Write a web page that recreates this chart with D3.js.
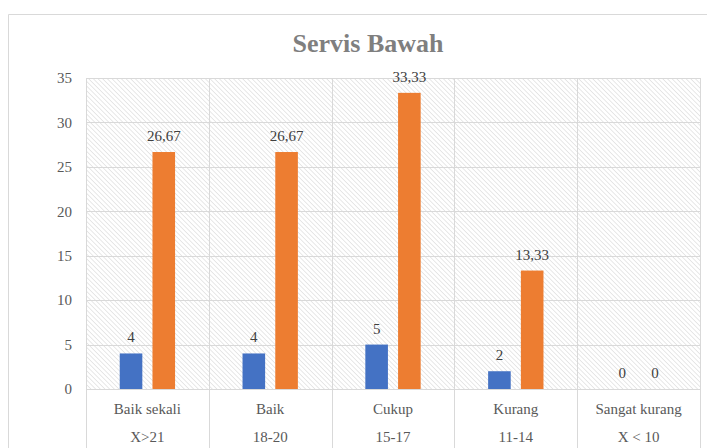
<!DOCTYPE html>
<html><head><meta charset="utf-8">
<script src="https://cdn.jsdelivr.net/npm/d3@7"></script>
<style>body{margin:0;background:#fff;}svg{display:block;}svg text{font-family:"Liberation Serif","DejaVu Serif",serif;}</style>
</head><body>
<script>
const categories = ["Baik sekali","Baik","Cukup","Kurang","Sangat kurang"];
const ranges = ["X>21","18-20","15-17","11-14","X < 10"];
const seriesA = [4,4,5,2,0];
const seriesB = [26.67,26.67,33.33,13.33,0];
const yTicks = [0,5,10,15,20,25,30,35];

(function(){
const W=707,H=448;
const svg=d3.select("body").append("svg").attr("width",W).attr("height",H);
const defs=svg.append("defs");
const s=3.3;
const pat=defs.append("pattern").attr("id","hatch").attr("patternUnits","userSpaceOnUse")
  .attr("width",s).attr("height",s).attr("patternTransform","rotate(-45)");
pat.append("rect").attr("width",s).attr("height",s).attr("fill","#fff");
pat.append("line").attr("x1",0).attr("y1",0).attr("x2",0).attr("y2",s).attr("stroke","#d2d2d2").attr("stroke-width",1);

svg.append("path").attr("d","M8.5,448 V14.5 H720").attr("fill","none").attr("stroke","#d9d9d9").attr("stroke-width",1);

const pl=86,pr=700,pt=78,pb=389;
const x=d3.scaleBand().domain(categories).range([pl,pr]);
const y=d3.scaleLinear().domain([0,35]).range([pb,pt]);

svg.append("text").attr("x",368).attr("y",52).attr("text-anchor","middle")
  .style("font-weight","bold").style("font-size","26px")
  .attr("fill","#7f7f7f").text("Servis Bawah");

svg.append("rect").attr("x",pl).attr("y",pt).attr("width",pr-pl).attr("height",pb-pt).attr("fill","url(#hatch)");

const g=svg.append("g");
g.selectAll("line.h").data(yTicks).join("line").attr("class","h")
  .attr("x1",pl).attr("x2",pr).attr("y1",d=>Math.round(y(d))+0.5).attr("y2",d=>Math.round(y(d))+0.5)
  .attr("stroke","#d9d9d9");
const bounds=categories.map(c=>x(c)).concat([pr]);
g.selectAll("line.v").data(bounds).join("line").attr("class","v")
  .attr("x1",d=>Math.round(d)+0.5).attr("x2",d=>Math.round(d)+0.5).attr("y1",pt).attr("y2",H)
  .attr("stroke","#d9d9d9");

const yAxis=d3.axisLeft(y).tickValues(yTicks).tickSize(0).tickPadding(14);
const ya=svg.append("g").attr("transform",`translate(${pl},0)`).call(yAxis);
ya.select(".domain").remove();
ya.attr("font-family",null);
ya.selectAll("text").style("font-size","15px").attr("fill","#595959");

const inner=d3.scaleBand().domain(["a","b"]).range([0,x.bandwidth()]).paddingInner(0.31).paddingOuter(1.03);
const fmt=v=>String(v).replace(".",",");
const data=[["a",seriesA,"#4472C4"],["b",seriesB,"#ED7D31"]];
data.forEach(([k,vals,col])=>{
  svg.selectAll("rect.b"+k).data(categories).join("rect").attr("class","b"+k)
    .attr("x",c=>x(c)+inner(k)).attr("width",inner.bandwidth())
    .attr("y",(c,i)=>y(vals[i])).attr("height",(c,i)=>pb-y(vals[i])).attr("fill",col);
  svg.selectAll("text.l"+k).data(categories).join("text").attr("class","l"+k)
    .attr("x",c=>x(c)+inner(k)+inner.bandwidth()/2).attr("y",(c,i)=>y(vals[i])-11)
    .attr("text-anchor","middle").style("font-size","15px")
    .attr("fill","#404040").text((c,i)=>fmt(vals[i]));
});

svg.selectAll("text.c1").data(categories).join("text").attr("class","c1")
  .attr("x",c=>x(c)+x.bandwidth()/2).attr("y",414).attr("text-anchor","middle")
  .style("font-size","15px").attr("fill","#595959").text(c=>c);
svg.selectAll("text.c2").data(categories).join("text").attr("class","c2")
  .attr("x",c=>x(c)+x.bandwidth()/2).attr("y",442).attr("text-anchor","middle")
  .style("font-size","15px").attr("fill","#595959").text((c,i)=>ranges[i]);
})();
</script>
</body></html>
